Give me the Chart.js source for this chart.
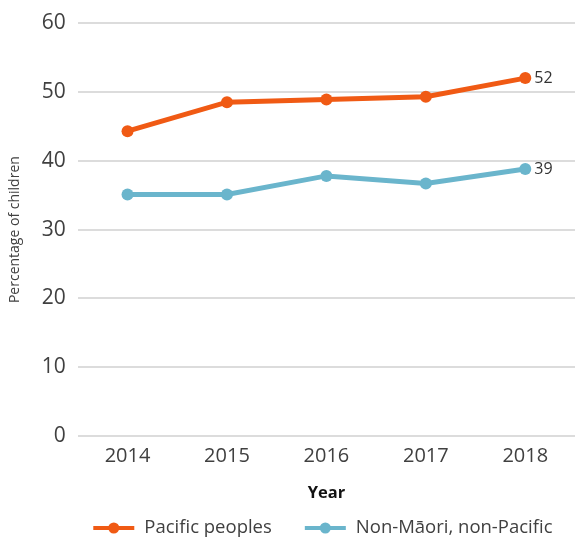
<!DOCTYPE html>
<html>
<head>
<meta charset="utf-8">
<script src="https://cdn.jsdelivr.net/npm/chart.js"></script>
<style>
  html, body { margin: 0; padding: 0; background: #fff; }
  #wrap { width: 575px; height: 540px; position: relative; }
</style>
</head>
<body>
<div id="wrap"><canvas id="chart"></canvas></div>
<script>
// data
const years = ['2014', '2015', '2016', '2017', '2018'];
const pacific = [44.3, 48.5, 48.9, 49.3, 52.0];
const nonMaoriPacific = [35.1, 35.1, 37.8, 36.7, 38.8];
const endLabels = ['52', '39'];
const seriesNames = ['Pacific peoples', 'Non-Māori, non-Pacific'];
const seriesColors = ['#F05A14', '#6AB5CC'];

const FONT = '"Open Sans", "DejaVu Sans", sans-serif';
const TEXT = '#404040';

// value labels at the end of each line
const endLabelPlugin = {
  id: 'endLabels',
  afterDatasetsDraw(chart) {
    const ctx = chart.ctx;
    ctx.save();
    ctx.font = '16px ' + FONT;
    ctx.fillStyle = '#333';
    ctx.textAlign = 'left';
    ctx.textBaseline = 'middle';
    chart.data.datasets.forEach((ds, i) => {
      const pts = chart.getDatasetMeta(i).data;
      const p = pts[pts.length - 1];
      ctx.fillText(endLabels[i], p.x + 9, p.y);
    });
    ctx.restore();
  }
};

// legend row under the axis title: line + dot swatch, then the name
const lineLegendPlugin = {
  id: 'lineLegend',
  afterDraw(chart) {
    const ctx = chart.ctx;
    const area = chart.chartArea;
    const y = 528;
    const swatchW = 41, gapText = 10, gapItem = 33;
    ctx.save();
    ctx.font = '18.5px ' + FONT;
    const widths = chart.data.datasets.map(ds => ctx.measureText(ds.label).width);
    const total = widths.reduce((s, w) => s + swatchW + gapText + w, 0) + gapItem * (widths.length - 1);
    let x = (area.left + area.right) / 2 - total / 2 - 3.5;
    chart.data.datasets.forEach((ds, i) => {
      ctx.strokeStyle = ds.borderColor;
      ctx.lineWidth = 4;
      ctx.beginPath();
      ctx.moveTo(x, y);
      ctx.lineTo(x + swatchW, y);
      ctx.stroke();
      ctx.fillStyle = ds.borderColor;
      ctx.beginPath();
      ctx.arc(x + swatchW / 2, y, 5.5, 0, Math.PI * 2);
      ctx.fill();
      x += swatchW + gapText;
      ctx.fillStyle = TEXT;
      ctx.textAlign = 'left';
      ctx.textBaseline = 'middle';
      ctx.fillText(ds.label, x, y);
      x += widths[i] + gapItem;
    });
    ctx.restore();
  }
};

new Chart(document.getElementById('chart'), {
  type: 'line',
  data: {
    labels: years,
    datasets: [pacific, nonMaoriPacific].map((vals, i) => ({
      label: seriesNames[i],
      data: vals,
      borderColor: seriesColors[i],
      backgroundColor: seriesColors[i],
      borderWidth: 5,
      pointRadius: 6,
      pointHoverRadius: 6,
      pointBorderWidth: 0,
      tension: 0,
      clip: false
    }))
  },
  options: {
    responsive: true,
    maintainAspectRatio: false,
    animation: false,
    layout: { autoPadding: false, padding: { left: 0, top: 9, right: 0, bottom: 37 } },
    plugins: {
      tooltip: { enabled: false },
      legend: { display: false }
    },
    scales: {
      x: {
        offset: true,
        grid: { display: false, drawTicks: false },
        border: { display: false },
        ticks: { color: TEXT, padding: 8, font: { family: FONT, size: 20 } },
        title: {
          display: true,
          text: 'Year',
          color: '#111',
          padding: { top: 7, bottom: 0 },
          font: { family: FONT, size: 16.5, weight: 'bold' }
        }
      },
      y: {
        min: 0,
        max: 60,
        grid: { color: '#dcdcdc', lineWidth: 2, drawTicks: false },
        border: { display: false },
        title: {
          display: true,
          text: 'Percentage of children',
          color: TEXT,
          padding: { top: 7, bottom: 6 },
          font: { family: FONT, size: 14 }
        },
        ticks: {
          stepSize: 10,
          padding: 12,
          color: TEXT,
          font: { family: FONT, size: 21, lineHeight: 1.05 }
        }
      }
    }
  },
  plugins: [endLabelPlugin, lineLegendPlugin]
});
</script>
</body>
</html>
